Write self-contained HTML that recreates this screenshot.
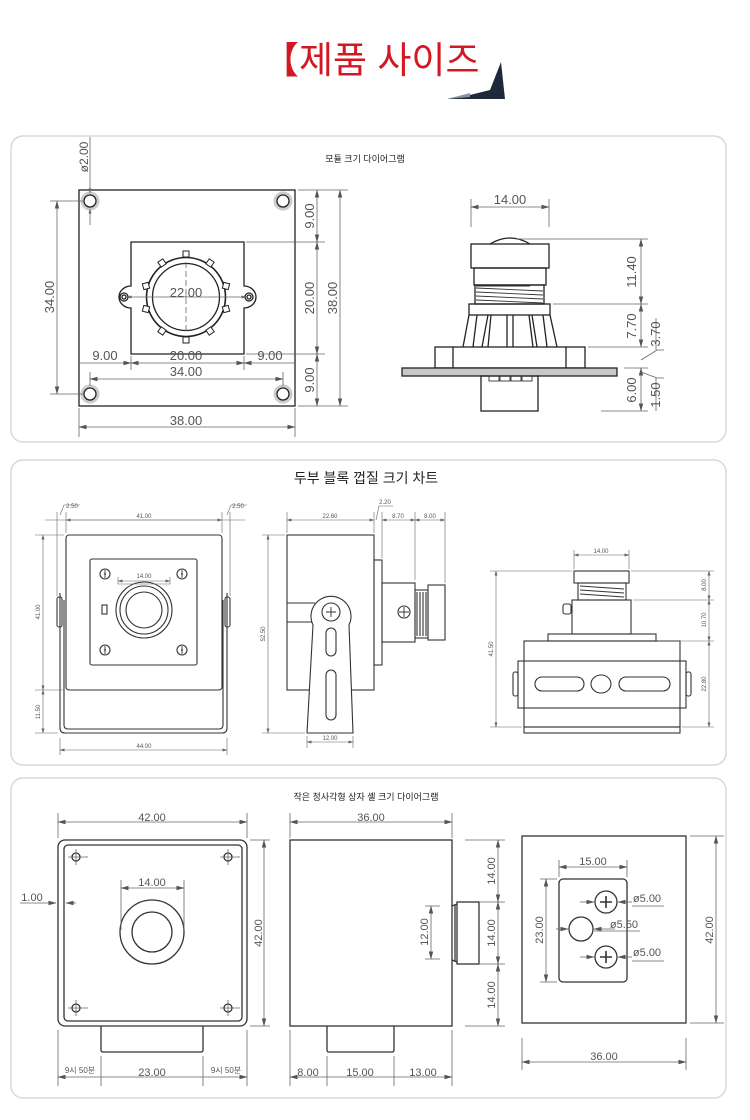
<!DOCTYPE html>
<html><head><meta charset="utf-8"><style>
html,body{margin:0;padding:0;background:#fff;}
svg{display:block;}
text{font-family:"Liberation Sans","Noto Sans CJK KR",sans-serif;}
</style></head><body>
<svg width="750" height="1120" viewBox="0 0 750 1120" xmlns="http://www.w3.org/2000/svg">
<defs>
<marker id="a" markerWidth="8" markerHeight="6" refX="7.5" refY="3" orient="auto-start-reverse" markerUnits="userSpaceOnUse"><path d="M0,0.8 L8,3 L0,5.2z" fill="#555"/></marker>
<marker id="s" markerWidth="5" markerHeight="4" refX="4.5" refY="2" orient="auto-start-reverse" markerUnits="userSpaceOnUse"><path d="M0,0.5 L5,2 L0,3.5z" fill="#666"/></marker>
</defs>

<!-- Title -->
<text x="262" y="73" font-size="37" fill="#d21822" font-family="'Liberation Sans','Noto Sans CJK KR',sans-serif">【제품 사이즈</text>
<polygon points="501,62 505,99 447,99 470,95 490,90" fill="#1e2a3a"/>
<polygon points="447,99 470,93 470,97" fill="#8a93a0"/>

<!-- Panels -->
<g fill="#fff" stroke="#d8d8d8" stroke-width="1.5">
<rect x="11" y="136" width="715" height="306" rx="12"/>
<rect x="11" y="460" width="715" height="305" rx="12"/>
<rect x="11" y="778" width="715" height="320" rx="12"/>
</g>

<!-- ===== PANEL 1 ===== -->
<text x="365" y="162" font-size="9" fill="#222" text-anchor="middle">모듈 크기 다이어그램</text>
<g stroke="#222" stroke-width="1.3" fill="none">
<rect x="79" y="190" width="216" height="216"/>
<path d="M131,242 H244 V286 A12,11 0 0 1 244,308 V354 H131 V308 A12,11 0 0 1 131,286 Z"/>
<circle cx="186" cy="297" r="39.5" stroke-width="1.6"/>
<circle cx="186" cy="297" r="33.5"/>
<circle cx="124" cy="297" r="4"/><circle cx="124" cy="297" r="2"/>
<circle cx="249" cy="297" r="4"/><circle cx="249" cy="297" r="2"/>
</g>
<g fill="#fff" stroke="#222" stroke-width="1">
<rect x="183" y="251" width="6" height="6"/><rect x="183" y="337" width="6" height="6"/>
<rect x="159" y="260" width="6" height="6" transform="rotate(-35 162 263)"/>
<rect x="207" y="260" width="6" height="6" transform="rotate(35 210 263)"/>
<rect x="159" y="328" width="6" height="6" transform="rotate(35 162 331)"/>
<rect x="207" y="328" width="6" height="6" transform="rotate(-35 210 331)"/>
<rect x="143" y="283" width="6" height="6" transform="rotate(-15 146 286)"/>
<rect x="143" y="306" width="6" height="6" transform="rotate(15 146 309)"/>
<rect x="223" y="283" width="6" height="6" transform="rotate(15 226 286)"/>
<rect x="223" y="306" width="6" height="6" transform="rotate(-15 226 309)"/>
</g>
<g fill="none" stroke="#ccc" stroke-width="3"><circle cx="90" cy="201" r="8"/><circle cx="283" cy="201" r="8"/><circle cx="90" cy="394" r="8"/><circle cx="283" cy="394" r="8"/></g>
<g fill="#fff" stroke="#222" stroke-width="1.3"><circle cx="90" cy="201" r="6"/><circle cx="283" cy="201" r="6"/><circle cx="90" cy="394" r="6"/><circle cx="283" cy="394" r="6"/></g>
<g stroke="#666" stroke-width="0.8" fill="none">
<path d="M186,262 V332" stroke-dasharray="6,3"/>
<path d="M127,297 H246" marker-start="url(#s)" marker-end="url(#s)"/>
<path d="M90,137 V193" marker-end="url(#s)"/><path d="M90,225 V209" marker-end="url(#s)"/>
<path d="M50,201 H84 M50,394 H84"/>
<path d="M57,201 V394" marker-start="url(#a)" marker-end="url(#a)"/>
<path d="M298,190 H348 M298,406 H348 M246,242 H325 M246,354 H325"/>
<path d="M317,190 V242" marker-start="url(#a)" marker-end="url(#a)"/>
<path d="M317,242 V354" marker-start="url(#a)" marker-end="url(#a)"/>
<path d="M317,354 V406" marker-start="url(#a)" marker-end="url(#a)"/>
<path d="M340,190 V406" marker-start="url(#a)" marker-end="url(#a)"/>
<path d="M79,363 H131" marker-end="url(#a)"/><path d="M131,363 H244" marker-start="url(#a)" marker-end="url(#a)"/><path d="M244,363 H295" marker-start="url(#a)"/>
<path d="M131,356 V370 M244,356 V370"/>
<path d="M90,372 V386 M283,372 V386"/>
<path d="M90,379 H283" marker-start="url(#a)" marker-end="url(#a)"/>
<path d="M79,408 V437 M295,408 V437"/>
<path d="M79,427 H295" marker-start="url(#a)" marker-end="url(#a)"/>
</g>
<g fill="#555" font-size="13" text-anchor="middle">
<text x="186" y="297">22.00</text>
<text x="105" y="360">9.00</text><text x="186" y="360">20.00</text><text x="270" y="360">9.00</text>
<text x="186" y="376">34.00</text>
<text x="186" y="425">38.00</text>
<text transform="translate(54,297) rotate(-90)">34.00</text>
<text transform="translate(314,216) rotate(-90)">9.00</text>
<text transform="translate(314,298) rotate(-90)">20.00</text>
<text transform="translate(314,380) rotate(-90)">9.00</text>
<text transform="translate(337,298) rotate(-90)">38.00</text>
<text transform="translate(88,157) rotate(-90)" font-size="12">ø2.00</text>
</g>
<!-- panel1 right -->
<g stroke="#222" stroke-width="1.3" fill="none">
<path d="M490,244 Q510,232 530,244"/>
<rect x="471" y="244" width="78" height="24"/>
<rect x="474" y="268" width="72" height="17"/>
<rect x="475" y="285" width="69" height="19"/>
<rect x="469" y="304" width="81" height="11"/>
<path d="M469,315 L463,347 M550,315 L557,347 M477,315 L473,347 M543,315 L547,347 M488,315 L482,347 M532,315 L537,347 M491,315 L488,347 M529,315 L533,347 M507,315 V347 M513,315 V347"/>
<rect x="435" y="347" width="150" height="21"/>
<path d="M453,347 V368 M566,347 V368"/>
<rect x="402" y="368" width="215" height="8" fill="#c8c8c8"/>
<rect x="481" y="376" width="57" height="35"/>
</g>
<g stroke="#333" stroke-width="0.9" fill="none">
<path d="M476,288 L543,291 M476,292 L543,295 M476,296 L543,299 M476,300 L543,303 M476,286 L530,286"/>
<rect x="489" y="376" width="10" height="5"/><rect x="500" y="376" width="10" height="5"/><rect x="511" y="376" width="10" height="5"/><rect x="522" y="376" width="10" height="5"/>
</g>
<g stroke="#666" stroke-width="0.8" fill="none">
<path d="M471,199 V227 M549,199 V227"/>
<path d="M471,207 H549" marker-start="url(#a)" marker-end="url(#a)"/>
<path d="M515,239 H648 M553,304 H648 M588,347 H648 M624,368 H648 M601,411 H648"/>
<path d="M641,239 V304" marker-start="url(#a)" marker-end="url(#a)"/>
<path d="M641,304 V347" marker-start="url(#a)" marker-end="url(#a)"/>
<path d="M641,368 V411" marker-start="url(#a)" marker-end="url(#a)"/>
<path d="M641,360 L657,350 L664,350 M641,372 L657,378 L664,378"/>
<path d="M656,318 V350 M656,378 V411"/>
</g>
<g fill="#555" font-size="13" text-anchor="middle">
<text x="510" y="204">14.00</text>
<text transform="translate(636,272) rotate(-90)">11.40</text>
<text transform="translate(636,326) rotate(-90)">7.70</text>
<text transform="translate(636,390) rotate(-90)">6.00</text>
<text transform="translate(660,334) rotate(-90)">3.70</text>
<text transform="translate(660,395) rotate(-90)">1.50</text>
</g>

<!-- ===== PANEL 2 ===== -->
<text x="366" y="483" font-size="14" fill="#222" text-anchor="middle">두부 블록 껍질 크기 차트</text>
<g stroke="#333" stroke-width="1.1" fill="none">
<path d="M60,593 V728 Q60,733 65,733 H222 Q227,733 227,728 V593"/>
<path d="M64,600 V725 Q64,729 68,729 H219 Q223,729 223,725 V600"/>
<rect x="66" y="535" width="156" height="155" rx="3" fill="#fff"/>
<rect x="90" y="559" width="107" height="106" rx="2"/>
<circle cx="105" cy="574" r="5"/><circle cx="182" cy="574" r="5"/><circle cx="105" cy="650" r="5"/><circle cx="182" cy="650" r="5"/>
<circle cx="144" cy="610" r="28"/><circle cx="144" cy="610" r="24"/><circle cx="144" cy="610" r="18"/>
<rect x="102" y="605" width="5" height="9"/>
<rect x="57" y="597" width="5" height="30" rx="2"/><rect x="225" y="597" width="5" height="30" rx="2"/>
<rect x="287" y="535" width="87" height="155"/>
<rect x="374" y="560" width="8" height="105"/>
<rect x="382" y="583" width="33" height="59"/>
<rect x="415" y="590" width="13" height="48"/>
<path d="M417,592 V636 M420,592 V636 M423,592 V636 M426,592 V636"/>
<rect x="428" y="585" width="17" height="55"/>
<circle cx="404" cy="612" r="6"/>
<path d="M287,603 H315 M287,622 H315"/>
<path d="M313,625 A20,20 0 1 1 349,625 L353,733 H307 Z" fill="#fff"/>
<circle cx="331" cy="612" r="9"/>
<rect x="326" y="628" width="10" height="28" rx="5"/>
<rect x="326" y="670" width="10" height="50" rx="5"/>
<rect x="574" y="571" width="55" height="12"/>
<rect x="578" y="583" width="48" height="17"/>
<path d="M580,586 L624,589 M580,590 L624,593 M580,594 L624,597"/>
<rect x="572" y="600" width="59" height="34"/>
<rect x="563" y="604" width="8" height="10" rx="2"/>
<rect x="548" y="634" width="108" height="7"/>
<rect x="524" y="641" width="156" height="86"/>
<rect x="518" y="661" width="168" height="47"/>
<rect x="535" y="677" width="49" height="14" rx="7"/>
<rect x="619" y="677" width="51" height="14" rx="7"/>
<ellipse cx="601" cy="684" rx="10" ry="9"/>
<rect x="524" y="727" width="156" height="6"/>
<rect x="513" y="672" width="5" height="24" rx="2"/><rect x="686" y="672" width="5" height="24" rx="2"/>
</g>
<g stroke="#333" stroke-width="0.9" fill="none">
<path d="M104,574 h2 M105,570 v8 M181,574 h2 M182,570 v8 M104,650 h2 M105,646 v8 M181,650 h2 M182,646 v8"/>
<path d="M326,612 H336 M331,607 V617 M399,612 H409 M404,607 V617"/>
</g>
<g stroke="#666" stroke-width="0.6" fill="none">
<path d="M45,520 H245"/><path d="M66,520 H222" marker-start="url(#s)" marker-end="url(#s)"/>
<path d="M57,512 V596 M66,512 V533 M222,512 V533 M230,512 V596"/>
<path d="M60,515 L64,505 H80 M227,515 L231,505 H247"/>
<path d="M35,535 H64 M35,690 H64 M35,733 H58"/>
<path d="M43,535 V690" marker-start="url(#s)" marker-end="url(#s)"/><path d="M43,690 V733" marker-start="url(#s)" marker-end="url(#s)"/>
<path d="M60,738 V755 M227,738 V755"/><path d="M60,750 H227" marker-start="url(#s)" marker-end="url(#s)"/>
<path d="M118,577 V584 H170 V577"/><path d="M118,581 H170" marker-start="url(#s)" marker-end="url(#s)"/>
<path d="M287,512 V533 M374,512 V533 M382,512 V558 M415,512 V580 M445,512 V583"/>
<path d="M287,520 H374" marker-start="url(#s)" marker-end="url(#s)"/>
<path d="M382,520 H415" marker-start="url(#s)" marker-end="url(#s)"/>
<path d="M415,520 H445" marker-start="url(#s)" marker-end="url(#s)"/>
<path d="M376,520 L379,506 H393"/>
<path d="M262,535 H285 M262,733 H305"/>
<path d="M268,535 V733" marker-start="url(#s)" marker-end="url(#s)"/>
<path d="M307,736 V748 M353,736 V748"/><path d="M307,742 H353" marker-start="url(#s)" marker-end="url(#s)"/>
<path d="M574,550 V569 M629,550 V569"/><path d="M574,555 H629" marker-start="url(#s)" marker-end="url(#s)"/>
<path d="M490,571 H572 M490,727 H522"/>
<path d="M496,571 V727" marker-start="url(#s)" marker-end="url(#s)"/>
<path d="M631,571 H714 M633,600 H714 M658,641 H714 M682,727 H714"/>
<path d="M709,571 V600" marker-start="url(#s)" marker-end="url(#s)"/>
<path d="M709,600 V641" marker-start="url(#s)" marker-end="url(#s)"/>
<path d="M709,641 V727" marker-start="url(#s)" marker-end="url(#s)"/>
</g>
<g fill="#555" font-size="6" text-anchor="middle">
<text x="144" y="518">41.00</text><text x="72" y="508">2.50</text><text x="238" y="508">2.50</text>
<text x="144" y="578">14.00</text><text x="144" y="748">44.00</text>
<text transform="translate(40,612) rotate(-90)">41.00</text>
<text transform="translate(40,712) rotate(-90)">11.50</text>
<text x="330" y="518">22.60</text><text x="398" y="518">8.70</text><text x="430" y="518">8.00</text><text x="385" y="504">2.20</text>
<text transform="translate(265,634) rotate(-90)">52.50</text>
<text x="330" y="740">12.00</text>
<text x="601" y="553">14.00</text>
<text transform="translate(493,649) rotate(-90)">41.50</text>
<text transform="translate(706,585) rotate(-90)">8.00</text>
<text transform="translate(706,620) rotate(-90)">10.70</text>
<text transform="translate(706,684) rotate(-90)">22.80</text>
</g>

<!-- ===== PANEL 3 ===== -->
<text x="366" y="800" font-size="9" fill="#222" text-anchor="middle">작은 정사각형 상자 셸 크기 다이어그램</text>
<g stroke="#333" stroke-width="1.3" fill="none">
<rect x="58" y="840" width="189" height="186" rx="7"/>
<rect x="64" y="845" width="178" height="176" rx="4"/>
<circle cx="76" cy="857" r="4"/><circle cx="228" cy="857" r="4"/><circle cx="76" cy="1008" r="4"/><circle cx="228" cy="1008" r="4"/>
<circle cx="152" cy="932" r="32"/><circle cx="152" cy="932" r="20"/>
<path d="M101,1026 V1050 Q101,1052 103,1052 H201 Q203,1052 203,1050 V1026"/>
<rect x="290" y="840" width="162" height="186"/>
<rect x="457" y="902" width="22" height="62"/>
<path d="M452,906 L457,904 M452,960 L457,962 M455,905 V961"/>
<path d="M327,1026 V1050 Q327,1052 329,1052 H392 Q394,1052 394,1050 V1026"/>
<rect x="522" y="836" width="164" height="187"/>
<rect x="559" y="879" width="68" height="103" rx="4"/>
<circle cx="606" cy="902" r="11"/><circle cx="606" cy="957" r="11"/>
<circle cx="581" cy="929" r="12"/>
</g>
<g stroke="#333" stroke-width="1.6" fill="none"><path d="M600,902 H612 M606,896 V908 M600,957 H612 M606,951 V963"/></g>
<g stroke="#666" stroke-width="0.8" fill="none">
<path d="M68,857 H88 M76,849 V865 M220,857 H240 M228,849 V865 M68,1008 H88 M76,1000 V1016 M220,1008 H240 M228,1000 V1016"/>
<path d="M58,813 V838 M247,813 V838"/><path d="M58,822 H247" marker-start="url(#a)" marker-end="url(#a)"/>
<path d="M121,880 V930 M184,880 V930"/><path d="M121,888 H184" marker-start="url(#a)" marker-end="url(#a)"/>
<path d="M20,903 H56" marker-end="url(#a)"/><path d="M76,903 H66" marker-end="url(#a)"/>
<path d="M250,840 H270 M250,1026 H270"/><path d="M264,840 V1026" marker-start="url(#a)" marker-end="url(#a)"/>
<path d="M58,1030 V1086 M101,1056 V1086 M203,1056 V1086 M247,1030 V1086"/>
<path d="M58,1077 H101 M101,1077 H203 M203,1077 H247" marker-start="url(#a)" marker-end="url(#a)"/>
<path d="M290,813 V838 M452,813 V838"/><path d="M290,822 H452" marker-start="url(#a)" marker-end="url(#a)"/>
<path d="M465,840 H505 M480,902 H505 M480,964 H505 M465,1026 H505"/>
<path d="M498,840 V902" marker-start="url(#a)" marker-end="url(#a)"/>
<path d="M498,902 V964" marker-start="url(#a)" marker-end="url(#a)"/>
<path d="M498,964 V1026" marker-start="url(#a)" marker-end="url(#a)"/>
<path d="M425,906 H440 M425,959 H440"/><path d="M431,906 V959" marker-start="url(#a)" marker-end="url(#a)"/>
<path d="M290,1030 V1086 M327,1056 V1086 M394,1056 V1086 M452,1030 V1086"/>
<path d="M290,1077 H327 M327,1077 H394 M394,1077 H452" marker-start="url(#a)" marker-end="url(#a)"/>
<path d="M559,860 V877 M627,860 V877"/><path d="M559,867 H627" marker-start="url(#a)" marker-end="url(#a)"/>
<path d="M540,879 H557 M540,982 H557"/><path d="M546,879 V982" marker-start="url(#a)" marker-end="url(#a)"/>
<path d="M580,902 H594" marker-end="url(#a)"/><path d="M632,902 H618" marker-end="url(#a)"/><path d="M632,906 H664"/>
<path d="M580,957 H594" marker-end="url(#a)"/><path d="M632,957 H618" marker-end="url(#a)"/><path d="M632,961 H664"/>
<path d="M556,929 H568" marker-end="url(#a)"/><path d="M615,929 H594" marker-end="url(#a)"/><path d="M594,931 H640"/>
<path d="M690,836 H724 M690,1023 H724"/><path d="M716,836 V1023" marker-start="url(#a)" marker-end="url(#a)"/>
<path d="M522,1038 V1070 M686,1038 V1070"/><path d="M522,1062 H686" marker-start="url(#a)" marker-end="url(#a)"/>
</g>
<g fill="#555" font-size="11" text-anchor="middle">
<text x="152" y="821">42.00</text><text x="152" y="886">14.00</text><text x="32" y="901">1.00</text>
<text transform="translate(262,933) rotate(-90)">42.00</text>
<text x="80" y="1073" font-size="8">9시 50분</text><text x="152" y="1076">23.00</text><text x="226" y="1073" font-size="8">9시 50분</text>
<text x="371" y="821">36.00</text>
<text transform="translate(495,871) rotate(-90)">14.00</text>
<text transform="translate(495,933) rotate(-90)">14.00</text>
<text transform="translate(495,995) rotate(-90)">14.00</text>
<text transform="translate(428,932) rotate(-90)">12.00</text>
<text x="308" y="1076">8.00</text><text x="360" y="1076">15.00</text><text x="423" y="1076">13.00</text>
<text x="593" y="865">15.00</text>
<text transform="translate(543,930) rotate(-90)">23.00</text>
<text x="647" y="902">ø5.00</text><text x="624" y="928">ø5.50</text><text x="647" y="956">ø5.00</text>
<text transform="translate(713,930) rotate(-90)">42.00</text>
<text x="604" y="1060">36.00</text>
</g>
</svg>
</body></html>
